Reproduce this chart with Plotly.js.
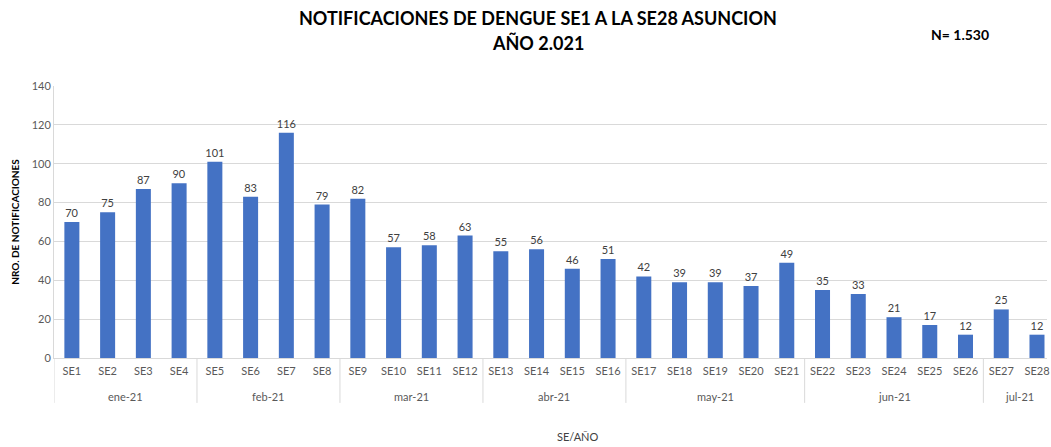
<!DOCTYPE html>
<html>
<head>
<meta charset="utf-8">
<script src="https://cdn.plot.ly/plotly-3.0.1.min.js"></script>
<style>html,body{margin:0;padding:0;background:#fff;}#chart{width:1051px;height:447px;}</style>
</head>
<body>
<div id="chart"></div>
<script>
const weeks = ["SE1","SE2","SE3","SE4","SE5","SE6","SE7","SE8","SE9","SE10","SE11","SE12","SE13","SE14","SE15","SE16","SE17","SE18","SE19","SE20","SE21","SE22","SE23","SE24","SE25","SE26","SE27","SE28"];
const counts = [70,75,87,90,101,83,116,79,82,57,58,63,55,56,46,51,42,39,39,37,49,35,33,21,17,12,25,12];
const months = ["ene-21","feb-21","mar-21","abr-21","may-21","jun-21","jul-21"];
const weeksPerMonth = [4,4,4,4,5,5,2];
const titleLines = ["NOTIFICACIONES DE DENGUE SE1 A LA SE28 ASUNCION", "AÑO 2.021"];

const font = "Lato, 'Open Sans', sans-serif";
const shapes = [];
const annotations = [];
let start = 0;
months.forEach((m, i) => {
  const n = weeksPerMonth[i];
  shapes.push({type:"line", xref:"x", yref:"paper", x0:start-0.5, x1:start-0.5, y0:0, y1:-0.165,
    line:{color:"#d9d9d9", width:1}});
  annotations.push({xref:"x", yref:"paper", x:start + (n-1)/2, y:-0.14, text:m, showarrow:false,
    xanchor:"center", yanchor:"middle", font:{family:font, size:11, color:"#595959"}});
  start += n;
});
annotations.push({xref:"paper", yref:"paper", x:0.4874, y:1.25, text:"<b>"+titleLines[0]+"</b>", showarrow:false,
  xanchor:"center", yanchor:"middle", font:{family:font, size:18, color:"#000"}});
annotations.push({xref:"paper", yref:"paper", x:0.4874, y:1.157, text:"<b>"+titleLines[1]+"</b>", showarrow:false,
  xanchor:"center", yanchor:"middle", font:{family:font, size:18, color:"#000"}});
annotations.push({xref:"paper", yref:"paper", x:0.528, y:-0.287, text:"SE/AÑO", showarrow:false,
  xanchor:"center", yanchor:"middle", font:{family:font, size:11, color:"#404040"}});
annotations.push({xref:"paper", yref:"paper", x:0.912, y:1.19, text:"<b>N= 1.530</b>", showarrow:false,
  xanchor:"center", yanchor:"middle", font:{family:font, size:14, color:"#000"}});

const trace = {
  type:"bar", x:weeks, y:counts, text:counts.map(String), textposition:"outside",
  constraintext:"none",
  textfont:{family:font, size:11, color:"#404040"}, cliponaxis:false,
  marker:{color:"#4472C4"}, hoverinfo:"x+y"
};

const layout = {
  width:1051, height:447,
  margin:{l:54, r:4, t:86, b:89},
  paper_bgcolor:"#fff", plot_bgcolor:"#fff",
  bargap:0.58,
  showlegend:false,
  xaxis:{type:"category", range:[-0.5, 27.28], tickfont:{family:font, size:11, color:"#595959"},
    showgrid:false, showline:true, linecolor:"#d9d9d9", ticks:"", zeroline:false, ticklabelstandoff:3},
  yaxis:{range:[0,140], dtick:20, tickfont:{family:font, size:11, color:"#595959"},
    gridcolor:"#d9d9d9", showline:true, linecolor:"#d9d9d9", zeroline:false, ticks:"",
    title:{text:"<b>NRO. DE NOTIFICACIONES</b>", standoff:10, font:{family:font, size:10, color:"#000"}}},
  shapes:shapes,
  annotations:annotations
};

Plotly.newPlot("chart", [trace], layout, {displayModeBar:false, staticPlot:true});
</script>
</body>
</html>
